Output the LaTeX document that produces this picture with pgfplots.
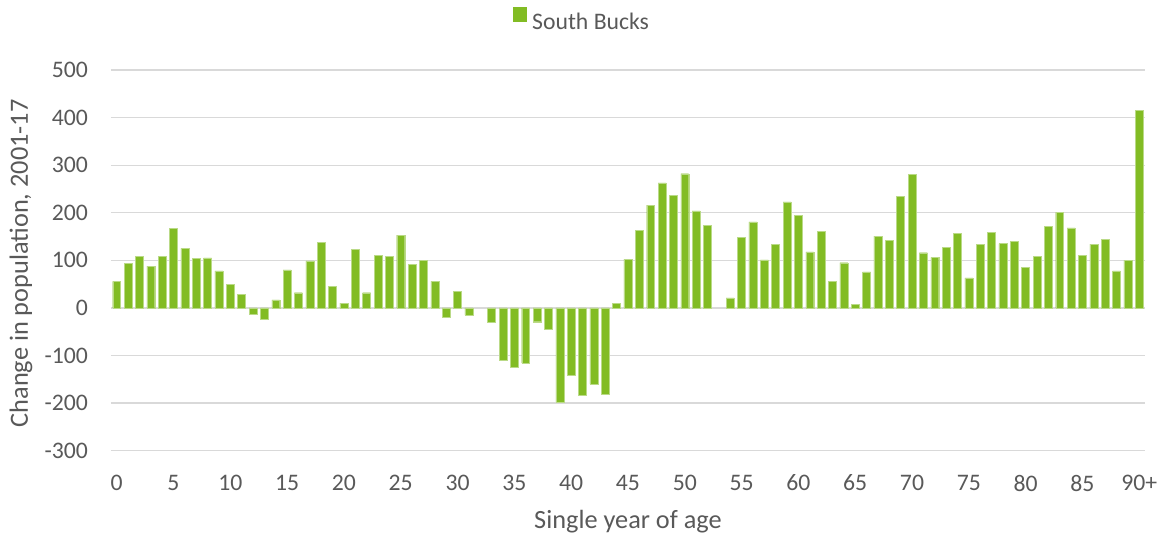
\documentclass[border=0pt]{standalone}
\usepackage{fontspec}
\setmainfont{Carlito}
\usepackage{pgfplots}
\pgfplotsset{compat=1.18}
\definecolor{barg}{RGB}{130,188,36}
\definecolor{txt}{RGB}{89,89,89}
\definecolor{grd}{RGB}{217,217,217}
\begin{document}
\begin{tikzpicture}
\begin{axis}[
  scale only axis, width=1034pt, height=380.7pt,
  xmin=-0.5, xmax=90.5, ymin=-300, ymax=500,
  ytick={-300,-200,...,500},
  xtick={0,5,...,90},
  xticklabels={0,5,10,15,20,25,30,35,40,45,50,55,60,65,70,75,80,85,90+},
  /pgf/number format/assume math mode=true,
  ymajorgrids, major grid style={grd, line width=1.3pt},
  axis line style={draw=none}, major tick length=0pt,
  tick label style={font=\fontsize{23.7}{28}\selectfont, text=txt, inner sep=0pt},
  yticklabel style={anchor=east, xshift=-23pt},
  xticklabel style={anchor=north, yshift=-24pt},
  xlabel={Single year of age},
  ylabel={Change in population, 2001-17},
  label style={font=\fontsize{26.3}{30}\selectfont, text=txt, inner sep=0pt},
  xlabel style={at={(axis description cs:0.5,0)}, anchor=base, yshift=-77.3pt},
  ylabel style={at={(axis description cs:-0.0803,0.492)}, anchor=base},
  legend style={at={(axis description cs:0.4545,1.134)}, anchor=center, draw=none, fill=none,
    font=\fontsize{23.7}{28}\selectfont, text=txt, column sep=6pt, nodes={inner sep=0pt}},
  legend image code/.code={\fill[barg] (0pt,0pt) rectangle (13pt,14pt);},
]
\addplot[ybar, bar width=0.7, fill=barg, draw=barg!55!white, line width=0.4pt] coordinates {
(0,56) (1,93) (2,108) (3,88) (4,109) (5,167) (6,125) (7,104) (8,105) (9,78)
(10,50) (11,29) (12,-14) (13,-24) (14,17) (15,80) (16,32) (17,99) (18,138) (19,45)
(20,10) (21,123) (22,32) (23,110) (24,108) (25,153) (26,92) (27,100) (28,56) (29,-20)
(30,35) (31,-15) (33,-31) (34,-109) (35,-125) (36,-116) (37,-29) (38,-45) (39,-198)
(40,-142) (41,-183) (42,-160) (43,-181) (44,10) (45,102) (46,163) (47,216) (48,263) (49,237)
(50,282) (51,204) (52,174) (54,21) (55,148) (56,181) (57,101) (58,134) (59,223)
(60,194) (61,118) (62,161) (63,56) (64,95) (65,8) (66,76) (67,151) (68,142) (69,235)
(70,281) (71,116) (72,106) (73,127) (74,157) (75,63) (76,134) (77,159) (78,135) (79,140)
(80,85) (81,109) (82,172) (83,201) (84,168) (85,111) (86,134) (87,144) (88,78) (89,100)
(90,415)
};
\addlegendentry{South Bucks}
\end{axis}
\pgfresetboundingbox
\useasboundingbox (-111pt,-87.3pt) rectangle (1051pt,450.7pt);
\end{tikzpicture}
\end{document}
